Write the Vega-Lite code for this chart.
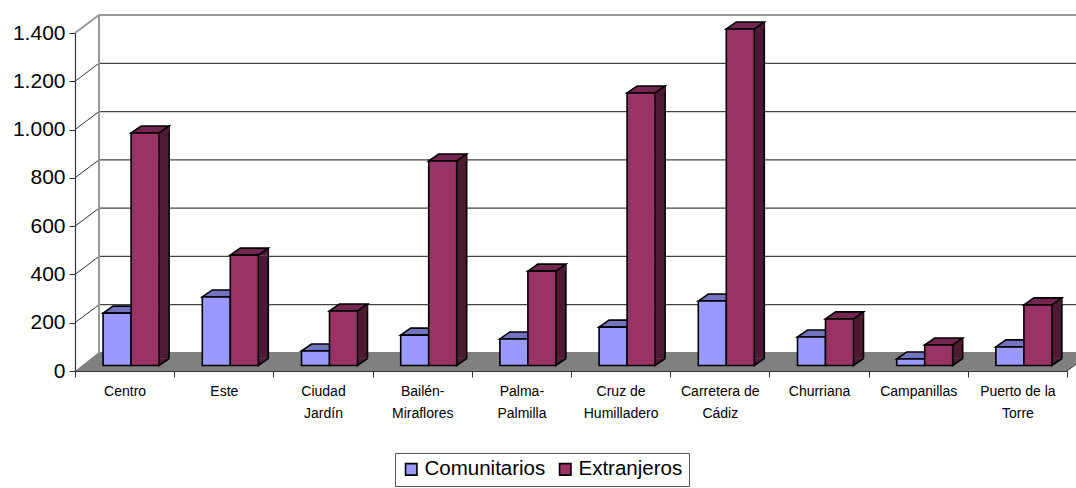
{
"$schema":"https://vega.github.io/schema/vega-lite/v6.json",
"width":992,"height":338,
"autosize":{"type":"none"},
"padding":{"left":75,"top":33,"right":9,"bottom":117},
"background":"#ffffff",
"config":{"view":{"stroke":null},"font":"Liberation Sans"},
"datasets":{
"ticks":[{"v":0},{"v":200},{"v":400},{"v":600},{"v":800},{"v":1000},{"v":1200},{"v":1400}],
"barrios":[
{"barrio":"Centro","serie":"Comunitarios","valor":217},{"barrio":"Centro","serie":"Extranjeros","valor":963},
{"barrio":"Este","serie":"Comunitarios","valor":284},{"barrio":"Este","serie":"Extranjeros","valor":457},
{"barrio":"Ciudad Jardín","serie":"Comunitarios","valor":60},{"barrio":"Ciudad Jardín","serie":"Extranjeros","valor":226},
{"barrio":"Bailén-Miraflores","serie":"Comunitarios","valor":126},{"barrio":"Bailén-Miraflores","serie":"Extranjeros","valor":847},
{"barrio":"Palma-Palmilla","serie":"Comunitarios","valor":110},{"barrio":"Palma-Palmilla","serie":"Extranjeros","valor":391},
{"barrio":"Cruz de Humilladero","serie":"Comunitarios","valor":159},{"barrio":"Cruz de Humilladero","serie":"Extranjeros","valor":1129},
{"barrio":"Carretera de Cádiz","serie":"Comunitarios","valor":267},{"barrio":"Carretera de Cádiz","serie":"Extranjeros","valor":1394},
{"barrio":"Churriana","serie":"Comunitarios","valor":118},{"barrio":"Churriana","serie":"Extranjeros","valor":193},
{"barrio":"Campanillas","serie":"Comunitarios","valor":27},{"barrio":"Campanillas","serie":"Extranjeros","valor":85},
{"barrio":"Puerto de la Torre","serie":"Comunitarios","valor":77},{"barrio":"Puerto de la Torre","serie":"Extranjeros","valor":251}
]},
"data":{"name":"barrios"},
"resolve":{"scale":{"x":"independent"},"axis":{"y":"independent"}},
"layer":[
{"data":{"name":"ticks"},"transform":[{"filter":"datum.v==0"}],
 "mark":{"type":"point","shape":"M0,0L24,-19L1016,-19L992,0Z","size":4,"filled":true,"fill":"#808080","stroke":null,"opacity":1},
 "encoding":{
  "x":{"datum":0,"type":"quantitative","scale":{"domain":[0,10]},"axis":null},
  "y":{"field":"v","type":"quantitative","scale":{"domain":[0,1400],"nice":false},
   "axis":{"title":null,"values":[0,200,400,600,800,1000,1200,1400],"labelExpr":"replace(format(datum.value,','),',','.')","labelFontSize":21,"labelColor":"#000000","labelPadding":4,"tickSize":6,"tickColor":"#333333","domainColor":"#333333","domainWidth":1.2,"grid":false,"zindex":1}}}},
{"data":{"name":"ticks"},"transform":[{"filter":"datum.v>0 && datum.v<1400"}],
 "mark":{"type":"rule","color":"#444444","strokeWidth":1.2,"xOffset":24,"x2Offset":24,"yOffset":-18,"y2Offset":-18},
 "encoding":{"x":{"datum":0,"type":"quantitative","scale":{"domain":[0,10]},"axis":null},"x2":{"datum":10},"y":{"field":"v","type":"quantitative","axis":null}}},
{"data":{"name":"ticks"},"transform":[{"filter":"datum.v>0 && datum.v<1400"}],
 "mark":{"type":"rule","color":"#333333","strokeWidth":1,"x2Offset":24,"y2Offset":-18},
 "encoding":{"x":{"datum":0,"type":"quantitative","scale":{"domain":[0,10]},"axis":null},"x2":{"datum":0},"y":{"field":"v","type":"quantitative","axis":null},"y2":{"field":"v"}}},
{"data":{"name":"ticks"},"transform":[{"filter":"datum.v==1400"}],
 "mark":{"type":"rule","color":"#999999","strokeWidth":2,"x2Offset":24,"y2Offset":-18},
 "encoding":{"x":{"datum":0,"type":"quantitative","scale":{"domain":[0,10]},"axis":null},"x2":{"datum":0},"y":{"field":"v","type":"quantitative","axis":null},"y2":{"field":"v"}}},
{"data":{"name":"ticks"},"transform":[{"filter":"datum.v==1400"}],
 "mark":{"type":"rule","color":"#999999","strokeWidth":2,"xOffset":24,"x2Offset":24,"yOffset":-18,"y2Offset":-18},
 "encoding":{"x":{"datum":0,"type":"quantitative","scale":{"domain":[0,10]},"axis":null},"x2":{"datum":10},"y":{"field":"v","type":"quantitative","axis":null}}},
{"data":{"name":"ticks"},"transform":[{"filter":"datum.v==1400"}],
 "mark":{"type":"rule","color":"#999999","strokeWidth":2,"xOffset":24,"x2Offset":24,"yOffset":-18,"y2Offset":-18},
 "encoding":{"x":{"datum":0,"type":"quantitative","scale":{"domain":[0,10]},"axis":null},"y":{"field":"v","type":"quantitative","axis":null},"y2":{"datum":0}}},
{"data":{"name":"ticks"},"transform":[{"filter":"datum.v==0"}],
 "mark":{"type":"rule","color":"#333333","strokeWidth":1,"x2Offset":24,"y2Offset":-18},
 "encoding":{"x":{"datum":10,"type":"quantitative","scale":{"domain":[0,10]},"axis":null},"x2":{"datum":10},"y":{"field":"v","type":"quantitative","axis":null},"y2":{"field":"v"}}},
{"resolve":{"axis":{"y":"independent"}},
 "encoding":{"x":{"field":"barrio","type":"nominal","sort":null,"scale":{"paddingInner":0,"paddingOuter":0},
   "axis":{"title":null,"labelAngle":0,"tickBand":"extent","tickSize":6,"tickColor":"#333333","domainColor":"#333333","domainWidth":1.2,"labelColor":"#000000","labelFontSize":14,"labelPadding":7,"labelLineHeight":22,"labelBaseline":"top","labelLimit":0,"zindex":1,
   "labelExpr":"({'Ciudad Jardín':['Ciudad','Jardín'],'Bailén-Miraflores':['Bailén-','Miraflores'],'Palma-Palmilla':['Palma-','Palmilla'],'Cruz de Humilladero':['Cruz de','Humilladero'],'Carretera de Cádiz':['Carretera de','Cádiz'],'Puerto de la Torre':['Puerto de la','Torre']})[datum.label] || datum.label"}}},
 "layer":[
 {"transform":[{"filter":"datum.serie=='Comunitarios'"}],
  "mark":{"type":"point","shape":"M-28,0L-18,-7L10,-7L0,0Z","size":4,"filled":true,"fill":"#7373BF","stroke":"#000000","strokeWidth":1.6,"opacity":1,"xOffset":6.5,"yOffset":-5.5},
  "encoding":{"y":{"field":"valor","type":"quantitative","axis":null}}},
 {"transform":[{"filter":"datum.serie=='Extranjeros'"}],
  "mark":{"type":"bar","width":10,"fill":"#4D1A33","xOffset":39.5,"yOffset":-5.5,"y2Offset":-12.5},
  "encoding":{"y":{"field":"valor","type":"quantitative","axis":null},"y2":{"datum":0}}},
 {"transform":[{"filter":"datum.serie=='Extranjeros'"}],
  "mark":{"type":"point","shape":"M28,-7L28,0L38,-7","size":4,"filled":true,"fill":"#4D1A33","stroke":"#000000","strokeWidth":1.6,"opacity":1,"xOffset":6.5,"yOffset":-5.5},
  "encoding":{"y":{"datum":0,"type":"quantitative","axis":null}}},
 {"transform":[{"filter":"datum.serie=='Extranjeros'"}],
  "mark":{"type":"rule","color":"#000000","strokeWidth":1.6,"xOffset":44.5,"yOffset":-12.5,"y2Offset":-12.5},
  "encoding":{"y":{"field":"valor","type":"quantitative","axis":null},"y2":{"datum":0}}},
 {"transform":[{"filter":"datum.serie=='Extranjeros'"}],
  "mark":{"type":"point","shape":"M28,0L38,-7L38,0Z","size":4,"filled":true,"fill":"#4D1A33","stroke":null,"opacity":1,"xOffset":6.5,"yOffset":-5.5},
  "encoding":{"y":{"field":"valor","type":"quantitative","axis":null}}},
 {"transform":[{"filter":"datum.serie=='Extranjeros'"}],
  "mark":{"type":"point","shape":"M0,0L10,-7L38,-7L28,0Z","size":4,"filled":true,"fill":"#732650","stroke":"#000000","strokeWidth":1.6,"opacity":1,"xOffset":6.5,"yOffset":-5.5},
  "encoding":{"y":{"field":"valor","type":"quantitative","axis":null}}},
 {"transform":[{"filter":"datum.serie=='Comunitarios'"}],
  "mark":{"type":"bar","width":28,"stroke":"#000000","strokeWidth":1.6,"xOffset":-7.5,"yOffset":-5.5,"y2Offset":-5.5},
  "encoding":{
   "y":{"field":"valor","type":"quantitative","axis":null},
   "y2":{"datum":0},
   "color":{"field":"serie","type":"nominal","scale":{"domain":["Comunitarios","Extranjeros"],"range":["#9999FF","#993366"]},
    "legend":{"title":null,"orient":"none","legendX":320,"legendY":420,"direction":"horizontal","columns":2,"padding":6,"strokeColor":"#555555","fillColor":"#ffffff","symbolType":"square","symbolSize":130,"symbolStrokeColor":"#000000","symbolStrokeWidth":1.6,"symbolOpacity":1,"labelFontSize":20.5,"labelColor":"#000000","labelOffset":3,"columnPadding":9}}}},
 {"transform":[{"filter":"datum.serie=='Extranjeros'"}],
  "mark":{"type":"bar","width":28,"stroke":"#000000","strokeWidth":1.6,"xOffset":20.5,"yOffset":-5.5,"y2Offset":-5.5},
  "encoding":{
   "y":{"field":"valor","type":"quantitative","axis":null},
   "y2":{"datum":0},
   "color":{"field":"serie","type":"nominal"}}}
 ]}
]
}
